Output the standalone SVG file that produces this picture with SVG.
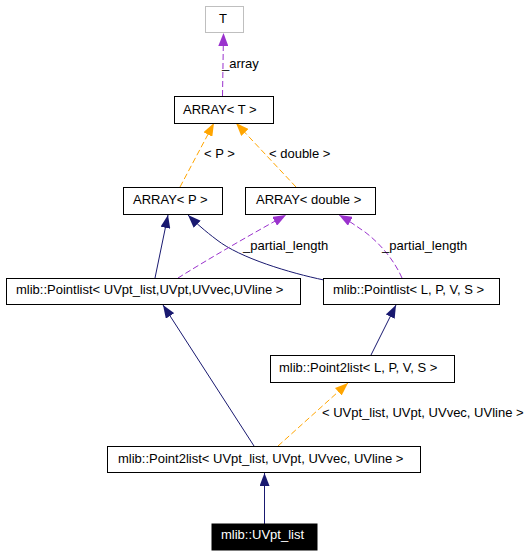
<svg xmlns="http://www.w3.org/2000/svg" width="527" height="555" viewBox="0 0 527 555">
<style>
text{font-family:"Liberation Sans",Arial,sans-serif;font-size:13px;fill:#000}
.box{fill:#fff;stroke:#000;stroke-width:1}
.gray{fill:#fff;stroke:#bfbfbf;stroke-width:1}
.blk{fill:#000;stroke:#000}
.wt{fill:#fff}
.navy{fill:none;stroke:#191970;stroke-width:1}
.orange{fill:none;stroke:#ffa500;stroke-width:1;stroke-dasharray:6,3}
.purple{fill:none;stroke:#9a32cd;stroke-width:1;stroke-dasharray:6,3}
</style>
<defs>
<marker id="aN" markerUnits="userSpaceOnUse" viewBox="0 0 13 10" refX="13" refY="5" markerWidth="13" markerHeight="10" orient="auto"><path d="M0,0 L13,5 L0,10 z" fill="#191970"/></marker>
<marker id="aO" markerUnits="userSpaceOnUse" viewBox="0 0 13 10" refX="13" refY="5" markerWidth="13" markerHeight="10" orient="auto"><path d="M0,0 L13,5 L0,10 z" fill="#ffa500"/></marker>
<marker id="aP" markerUnits="userSpaceOnUse" viewBox="0 0 13 10" refX="13" refY="5" markerWidth="13" markerHeight="10" orient="auto"><path d="M0,0 L13,5 L0,10 z" fill="#9a32cd"/></marker>
</defs>
<g id="connectors">
<path class="purple" d="M222.5,96 L223.5,33" marker-end="url(#aP)"/>
<text x="222" y="68">_array</text>
<path class="orange" d="M180,187 L214,123" marker-end="url(#aO)"/>
<text x="204" y="158">&lt; P &gt;</text>
<path class="orange" d="M296,187 L236,123" marker-end="url(#aO)"/>
<text x="269" y="158">&lt; double &gt;</text>
<path class="navy" d="M155,278 L168,215" marker-end="url(#aN)"/>
<path class="navy" d="M324,280 C290,273 240,258 217,240 C205,231 196,223 188,215" marker-end="url(#aN)"/>
<path class="purple" d="M178,278 C210,258 250,235 286,215" marker-end="url(#aP)"/>
<text x="243" y="250">_partial_length</text>
<path class="purple" d="M402,278 C395,262 382,245 365,232 C356,226 348,220 339,215" marker-end="url(#aP)"/>
<text x="382" y="250">_partial_length</text>
<path class="navy" d="M371,355 L396,305" marker-end="url(#aN)"/>
<path class="navy" d="M254,446 L163,305" marker-end="url(#aN)"/>
<path class="orange" d="M278,446 L348,383" marker-end="url(#aO)"/>
<text x="322" y="417">&lt; UVpt_list, UVpt, UVvec, UVline &gt;</text>
<path class="navy" d="M264.5,524 L264.5,473" marker-end="url(#aN)"/>
</g>
<g id="node-T"><rect class="gray" x="205.5" y="6.5" width="38" height="26"/><text x="219" y="23">T</text></g>
<g id="node-ARRAY-T"><rect class="box" x="174.5" y="96.5" width="99" height="27"/><text x="183" y="114">ARRAY&lt; T &gt;</text></g>
<g id="node-ARRAY-P"><rect class="box" x="123.5" y="187.5" width="99" height="27"/><text x="133" y="204">ARRAY&lt; P &gt;</text></g>
<g id="node-ARRAY-double"><rect class="box" x="245.5" y="187.5" width="130" height="27"/><text x="256" y="204">ARRAY&lt; double &gt;</text></g>
<g id="node-Pointlist-UVpt"><rect class="box" x="6.5" y="278.5" width="294" height="26"/><text x="16" y="294">mlib::Pointlist&lt; UVpt_list,UVpt,UVvec,UVline &gt;</text></g>
<g id="node-Pointlist-LPVS"><rect class="box" x="323.5" y="278.5" width="176" height="26"/><text x="333" y="294">mlib::Pointlist&lt; L, P, V, S &gt;</text></g>
<g id="node-Point2list-LPVS"><rect class="box" x="270.5" y="355.5" width="184" height="27"/><text x="279" y="372">mlib::Point2list&lt; L, P, V, S &gt;</text></g>
<g id="node-Point2list-UVpt"><rect class="box" x="107.5" y="446.5" width="313" height="26"/><text x="118" y="463">mlib::Point2list&lt; UVpt_list, UVpt, UVvec, UVline &gt;</text></g>
<g id="node-UVpt_list"><rect class="blk" x="212" y="524" width="105" height="26"/><text class="wt" x="221" y="539">mlib::UVpt_list</text></g>
</svg>
